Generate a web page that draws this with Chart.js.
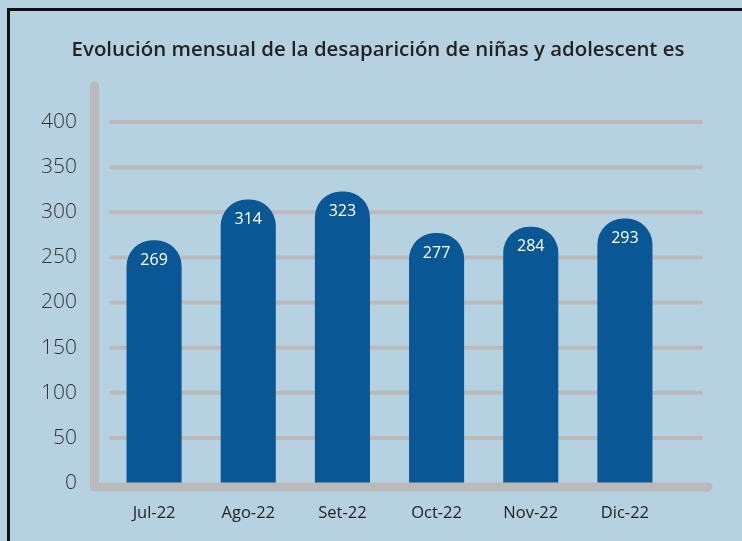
<!DOCTYPE html>
<html>
<head>
<meta charset="utf-8">
<script src="https://cdn.jsdelivr.net/npm/chart.js@4.4.1/dist/chart.umd.min.js"></script>
<style>
  html, body { margin: 0; padding: 0; background: #b6d2e0; }
  #wrap { position: relative; width: 742px; height: 541px; overflow: hidden; background: #b6d2e0; }
  #frame { position: absolute; left: 7px; top: 8px; width: 760px; height: 560px; border-left: 3px solid #111; border-top: 3px solid #111; box-sizing: border-box; }
  canvas { position: absolute; left: 0; top: 0; }
</style>
</head>
<body>
<div id="wrap">
  <div id="frame"></div>
  <canvas id="c" width="742" height="541"></canvas>
</div>
<script>
const titleText = "Evolución mensual de la desaparición de niñas y adolescent es";
const categories = ["Jul-22", "Ago-22", "Set-22", "Oct-22", "Nov-22", "Dic-22"];
const values = [269, 314, 323, 277, 284, 293];
const yTickValues = [0, 50, 100, 150, 200, 250, 300, 350, 400];

const FONT = "'Open Sans', 'Noto Sans', sans-serif";
const GRAY = '#bababa';

const decor = {
  id: 'decor',
  beforeDatasetsDraw(chart) {
    const ctx = chart.ctx;
    const y = chart.scales.y;
    ctx.save();
    // title
    ctx.fillStyle = '#222222';
    ctx.font = "600 20.4px " + FONT;
    ctx.textAlign = 'center';
    ctx.textBaseline = 'alphabetic';
    ctx.fillText(titleText, 378, 56);
    // gridlines
    ctx.strokeStyle = GRAY;
    ctx.lineWidth = 4;
    ctx.lineCap = 'round';
    yTickValues.forEach(v => {
      if (v === 0) return;
      const py = y.getPixelForValue(v);
      ctx.beginPath();
      ctx.moveTo(111, py);
      ctx.lineTo(701, py);
      ctx.stroke();
    });
    ctx.restore();
  },
  afterDatasetsDraw(chart) {
    const ctx = chart.ctx;
    const y = chart.scales.y;
    const base = y.getPixelForValue(0) + 4;
    ctx.save();
    ctx.strokeStyle = GRAY;
    ctx.lineWidth = 9;
    ctx.lineCap = 'round';
    ctx.lineJoin = 'round';
    ctx.beginPath();
    ctx.moveTo(94.5, 86);
    ctx.lineTo(94.5, base);
    ctx.lineTo(708, base);
    ctx.stroke();
    // value labels
    const meta = chart.getDatasetMeta(0);
    ctx.fillStyle = '#ffffff';
    ctx.font = "16px " + FONT;
    ctx.textAlign = 'center';
    ctx.textBaseline = 'middle';
    meta.data.forEach((bar, i) => {
      ctx.fillText(String(values[i]), bar.x, bar.y + 20);
    });
    ctx.restore();
  }
};

new Chart(document.getElementById('c'), {
  type: 'bar',
  data: {
    labels: categories,
    datasets: [{
      data: values,
      backgroundColor: '#0a5795',
      borderWidth: 0,
      borderSkipped: false,
      borderRadius: { topLeft: 26, topRight: 26, bottomLeft: 0, bottomRight: 0 },
      barPercentage: 0.585,
      categoryPercentage: 1
    }]
  },
  options: {
    responsive: false,
    animation: false,
    layout: { padding: { left: 0, right: 70, top: 122, bottom: 0 } },
    plugins: {
      legend: { display: false },
      tooltip: { enabled: false },
      title: { display: false }
    },
    scales: {
      x: {
        grid: { display: false, drawTicks: false },
        border: { display: false },
        ticks: { color: '#222222', font: { family: FONT, size: 16.5 }, padding: 20 },
        afterFit(s) { s.height = 541 - 483; }
      },
      y: {
        min: 0, max: 400,
        afterBuildTicks(s) { s.ticks = yTickValues.map(v => ({ value: v })); },
        grid: { display: false, drawTicks: false },
        border: { display: false },
        ticks: { color: '#333333', font: { family: FONT, size: 21, weight: '300' }, padding: 30 },
        afterFit(s) { s.width = 107; }
      }
    }
  },
  plugins: [decor]
});
</script>
</body>
</html>
